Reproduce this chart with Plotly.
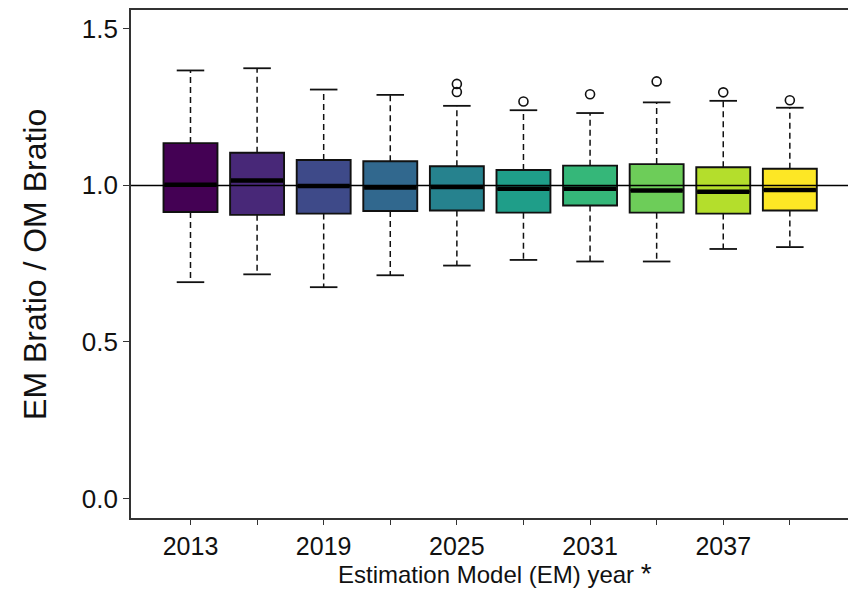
import plotly.graph_objects as go

years = [2013, 2016, 2019, 2022, 2025, 2028, 2031, 2034, 2037, 2040]
tick_labels = ["2013", "", "2019", "", "2025", "", "2031", "", "2037", ""]
q1 = [0.915, 0.906, 0.910, 0.918, 0.920, 0.913, 0.936, 0.913, 0.910, 0.920]
median = [1.002, 1.016, 0.998, 0.993, 0.995, 0.989, 0.989, 0.984, 0.980, 0.985]
q3 = [1.135, 1.104, 1.081, 1.077, 1.061, 1.049, 1.063, 1.068, 1.058, 1.053]
lower_whisker = [0.691, 0.716, 0.675, 0.713, 0.744, 0.762, 0.757, 0.757, 0.797, 0.803]
upper_whisker = [1.367, 1.374, 1.306, 1.289, 1.254, 1.240, 1.231, 1.265, 1.270, 1.248]
outlier_years = [2025, 2025, 2028, 2031, 2034, 2037, 2040]
outlier_values = [1.324, 1.298, 1.268, 1.291, 1.332, 1.297, 1.272]
colors = ["#440154", "#482878", "#3E4A89", "#31688E", "#26828E",
          "#1F9E89", "#35B779", "#6DCD59", "#B4DE2C", "#FDE725"]

BOX_W = 2.43
CAP_HALF = 0.62
FONT = "Liberation Sans, Arial, sans-serif"

fig = go.Figure()

for i, yr in enumerate(years):
    fig.add_trace(go.Box(
        x=[yr], q1=[q1[i]], median=[median[i]], q3=[q3[i]],
        lowerfence=[q1[i]], upperfence=[q3[i]],
        width=BOX_W, whiskerwidth=0,
        fillcolor=colors[i], line=dict(color="#111111", width=1.9),
        boxpoints=False, showlegend=False, hoverinfo="skip",
    ))

# dashed whiskers
wx, wy = [], []
for i, yr in enumerate(years):
    wx += [yr, yr, None, yr, yr, None]
    wy += [q3[i], upper_whisker[i], None, q1[i], lower_whisker[i], None]
fig.add_trace(go.Scatter(x=wx, y=wy, mode="lines",
                         line=dict(color="#111111", width=1.5, dash="6px,4px"),
                         showlegend=False, hoverinfo="skip"))

# whisker caps
cx, cy = [], []
for i, yr in enumerate(years):
    for v in (upper_whisker[i], lower_whisker[i]):
        cx += [yr - CAP_HALF, yr + CAP_HALF, None]
        cy += [v, v, None]
fig.add_trace(go.Scatter(x=cx, y=cy, mode="lines",
                         line=dict(color="#111111", width=1.8),
                         showlegend=False, hoverinfo="skip"))

# thick medians
mx, my = [], []
for i, yr in enumerate(years):
    mx += [yr - BOX_W / 2 + 0.04, yr + BOX_W / 2 - 0.04, None]
    my += [median[i], median[i], None]
fig.add_trace(go.Scatter(x=mx, y=my, mode="lines",
                         line=dict(color="#000000", width=4.5),
                         showlegend=False, hoverinfo="skip"))

# outliers
fig.add_trace(go.Scatter(x=outlier_years, y=outlier_values, mode="markers",
                         marker=dict(symbol="circle-open", size=9,
                                     color="#111111", line=dict(width=1.6)),
                         showlegend=False, hoverinfo="skip"))

fig.add_shape(type="line", xref="paper", x0=0, x1=1, yref="y", y0=1.0, y1=1.0,
              line=dict(color="#000000", width=1.5), layer="above")

fig.update_layout(
    width=848, height=590,
    margin=dict(l=131, r=0, t=10, b=72, autoexpand=False),
    paper_bgcolor="white", plot_bgcolor="white",
    boxmode="overlay",
    font=dict(family=FONT, color="#111111"),
    xaxis=dict(
        range=[2010.32, 2042.62],
        tickmode="array", tickvals=years, ticktext=tick_labels,
        ticks="outside", ticklen=5, tickwidth=1.2, tickcolor="#333333",
        showline=True, linecolor="#333333", linewidth=1.6, mirror=True,
        showgrid=False, zeroline=False, automargin=False,
        tickfont=dict(size=25, family=FONT, color="#111111"),
    ),
    yaxis=dict(
        range=[-0.062, 1.56],
        tickmode="array", tickvals=[0, 0.5, 1.0, 1.5],
        ticktext=["0.0", "0.5", "1.0", "1.5"],
        ticks="outside", ticklen=6, tickwidth=1.2, tickcolor="#333333",
        showline=True, linecolor="#333333", linewidth=1.6,
        showgrid=False, zeroline=False, automargin=False,
        tickfont=dict(size=26, family=FONT, color="#111111"),
    ),
)

fig.add_annotation(
    xref="paper", yref="paper", x=0.507, y=-0.11, xanchor="center", yanchor="middle",
    text='Estimation Model (EM) year <span style="font-size:28px">*</span>',
    showarrow=False, font=dict(size=24, family=FONT, color="#111111"),
)
fig.add_annotation(
    xref="paper", yref="paper", x=-0.134, y=0.5, xanchor="center", yanchor="middle",
    text="EM Bratio / OM Bratio", textangle=-90,
    showarrow=False, font=dict(size=32, family=FONT, color="#111111"),
)

fig.write_html("out.html", config={"displayModeBar": False},
               post_script="document.body.style.margin='0';")
